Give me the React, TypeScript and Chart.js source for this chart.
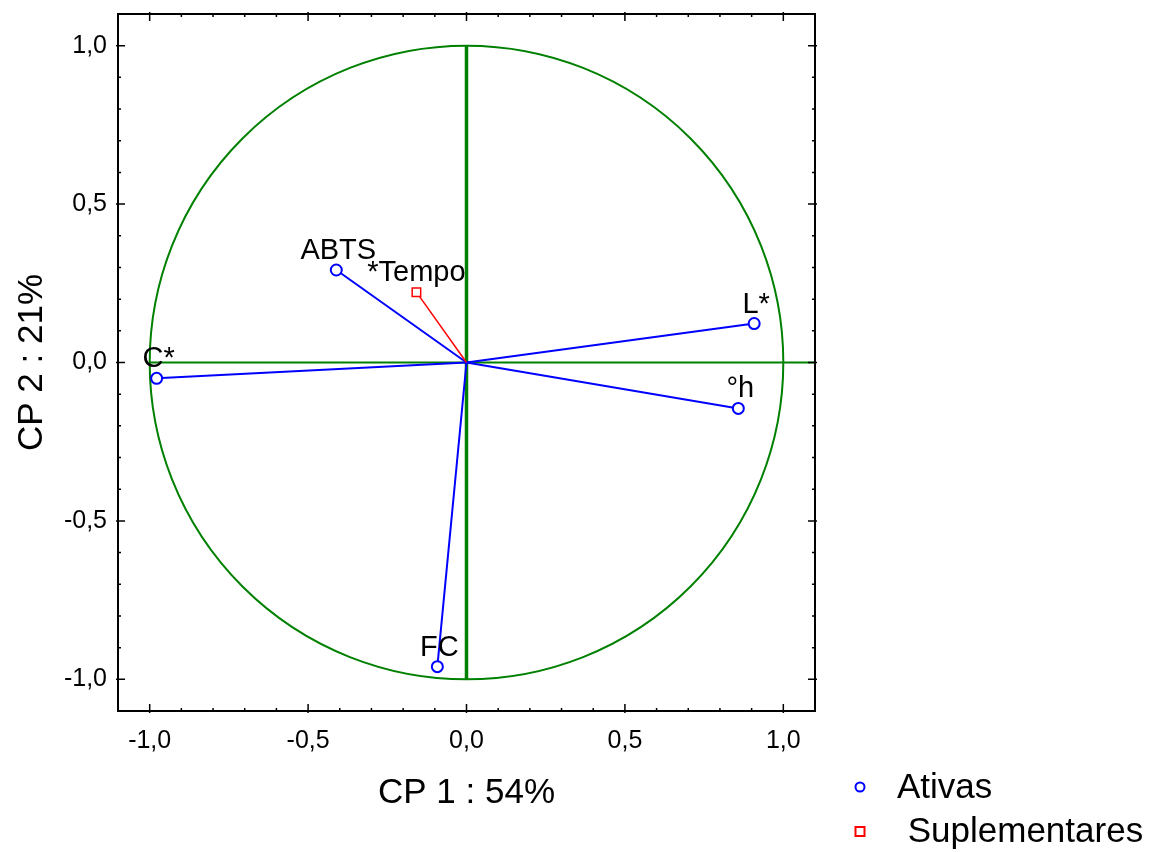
import React, { useEffect, useRef } from "react";
import { Chart, registerables } from "chart.js";

Chart.register(...registerables);

// Active variables (loadings on CP1 / CP2)
const activeLabels = ["ABTS", "L*", "°h", "C*", "FC"];
const activeCp1 = [-0.411, 0.908, 0.858, -0.978, -0.092];
const activeCp2 = [0.292, 0.123, -0.145, -0.05, -0.96];

// Supplementary variables
const suppLabels = ["*Tempo"];
const suppCp1 = [-0.158];
const suppCp2 = [0.222];

const tickValues = [-1, -0.5, 0, 0.5, 1];
const axisMin = -1.1;
const axisMax = 1.1;

const xTitle = "CP 1 : 54%";
const yTitle = "CP 2 : 21%";
const legendItems = ["Ativas", " Suplementares"];

const FONT = '"Liberation Sans", Arial, sans-serif';
const BLUE = "#0000ff";
const RED = "#ff0000";
const GREEN = "#008000";

const fmt = (v: number) => v.toFixed(1).replace(".", ",");

const decorPlugin = {
  id: "decor",
  beforeDatasetsDraw(chart: any) {
    const { ctx, chartArea, scales } = chart;
    const xs = scales.x;
    const ys = scales.y;
    const cx = xs.getPixelForValue(0);
    const cy = ys.getPixelForValue(0);
    const r = xs.getPixelForValue(1) - cx;
    const ry = cy - ys.getPixelForValue(1);
    ctx.save();
    ctx.strokeStyle = GREEN;
    ctx.lineWidth = 2;
    ctx.beginPath();
    ctx.ellipse(cx, cy, r, ry, 0, 0, Math.PI * 2);
    ctx.stroke();
    ctx.beginPath();
    ctx.moveTo(xs.getPixelForValue(-1), cy);
    ctx.lineTo(chartArea.right, cy);
    ctx.stroke();
    ctx.lineWidth = 3.5;
    ctx.beginPath();
    ctx.moveTo(cx, ys.getPixelForValue(1));
    ctx.lineTo(cx, ys.getPixelForValue(-1));
    ctx.stroke();
    ctx.restore();
  },
  afterDatasetsDraw(chart: any) {
    const { ctx, chartArea, scales } = chart;
    const xs = scales.x;
    const ys = scales.y;
    ctx.save();
    ctx.fillStyle = "#000";
    ctx.font = `29px ${FONT}`;
    ctx.textAlign = "center";
    ctx.textBaseline = "alphabetic";
    activeLabels.forEach((lab, i) => {
      const px = xs.getPixelForValue(activeCp1[i]);
      const py = ys.getPixelForValue(activeCp2[i]);
      ctx.fillText(lab, px + 2, py - 11);
    });
    suppLabels.forEach((lab, i) => {
      const px = xs.getPixelForValue(suppCp1[i]);
      const py = ys.getPixelForValue(suppCp2[i]);
      ctx.fillText(lab, px, py - 11);
    });
    ctx.strokeStyle = "#000";
    ctx.lineWidth = 2;
    ctx.strokeRect(chartArea.left, chartArea.top, chartArea.right - chartArea.left, chartArea.bottom - chartArea.top);
    ctx.lineWidth = 1.5;
    for (let k = -10; k <= 10; k++) {
      const v = k / 10;
      const major = k % 5 === 0;
      const len = major ? 7 : 3;
      const out = major ? 2 : 0;
      const px = xs.getPixelForValue(v);
      const py = ys.getPixelForValue(v);
      ctx.beginPath();
      ctx.moveTo(px, chartArea.bottom + out);
      ctx.lineTo(px, chartArea.bottom - len);
      ctx.moveTo(px, chartArea.top - out);
      ctx.lineTo(px, chartArea.top + len);
      ctx.moveTo(chartArea.left - out, py);
      ctx.lineTo(chartArea.left + len, py);
      ctx.moveTo(chartArea.right + out, py);
      ctx.lineTo(chartArea.right - len, py);
      ctx.stroke();
    }
    ctx.restore();
  },
  afterDraw(chart: any) {
    const { ctx, chartArea } = chart;
    ctx.save();
    ctx.fillStyle = "#000";
    ctx.font = `35px ${FONT}`;
    ctx.textAlign = "center";
    ctx.textBaseline = "alphabetic";
    const midX = (chartArea.left + chartArea.right) / 2;
    const midY = (chartArea.top + chartArea.bottom) / 2;
    ctx.fillText(xTitle, midX, 803);
    ctx.save();
    ctx.translate(42, midY);
    ctx.rotate(-Math.PI / 2);
    ctx.fillText(yTitle, 0, 0);
    ctx.restore();
    ctx.font = `35px ${FONT}`;
    ctx.textAlign = "left";
    ctx.lineWidth = 2;
    ctx.strokeStyle = BLUE;
    ctx.beginPath();
    ctx.arc(860, 787, 4.5, 0, Math.PI * 2);
    ctx.stroke();
    ctx.fillText(legendItems[0], 897, 798);
    ctx.strokeStyle = RED;
    ctx.strokeRect(855.5, 827, 9, 9);
    ctx.fillText(legendItems[1], 898, 842);
    ctx.restore();
  },
};

export default function App() {
  const canvasRef = useRef<HTMLCanvasElement | null>(null);

  useEffect(() => {
    const canvas = canvasRef.current;
    if (!canvas) return;
    const activeSets = activeLabels.map((lab, i) => ({
      label: lab,
      data: [
        { x: 0, y: 0 },
        { x: activeCp1[i], y: activeCp2[i] },
      ],
      showLine: true,
      borderColor: BLUE,
      borderWidth: 2,
      pointRadius: [0, 5.5],
      pointStyle: "circle",
      pointBorderColor: BLUE,
      pointBackgroundColor: "#ffffff",
      pointBorderWidth: 2,
    }));
    const suppSets = suppLabels.map((lab, i) => ({
      label: lab,
      data: [
        { x: 0, y: 0 },
        { x: suppCp1[i], y: suppCp2[i] },
      ],
      showLine: true,
      borderColor: RED,
      borderWidth: 1.5,
      pointRadius: [0, 6],
      pointStyle: "rect",
      pointBorderColor: RED,
      pointBackgroundColor: "#ffffff",
      pointBorderWidth: 1.5,
    }));

    const chart = new Chart(canvas, {
      type: "scatter",
      data: { datasets: [...suppSets, ...activeSets] as any },
      options: {
        responsive: false,
        animation: false,
        devicePixelRatio: 1,
        layout: { padding: { left: 0, top: 14, right: 341, bottom: 0 } },
        plugins: {
          legend: { display: false },
          tooltip: { enabled: false },
        },
        scales: {
          x: {
            type: "linear",
            min: axisMin,
            max: axisMax,
            afterBuildTicks: (s: any) => {
              s.ticks = tickValues.map((v) => ({ value: v }));
            },
            afterFit: (s: any) => {
              s.height = 141;
              s.paddingLeft = 0;
              s.paddingRight = 0;
            },
            grid: { display: false, drawTicks: false },
            border: { display: false },
            ticks: {
              color: "#000",
              font: { family: FONT, size: 25 },
              padding: 15,
              maxRotation: 0,
              callback: (v: any) => fmt(Number(v)),
            },
          },
          y: {
            type: "linear",
            min: axisMin,
            max: axisMax,
            afterBuildTicks: (s: any) => {
              s.ticks = tickValues.map((v) => ({ value: v }));
            },
            afterFit: (s: any) => {
              s.width = 118;
              s.paddingTop = 0;
              s.paddingBottom = 0;
            },
            grid: { display: false, drawTicks: false },
            border: { display: false },
            ticks: {
              color: "#000",
              font: { family: FONT, size: 25 },
              padding: 11,
              callback: (v: any) => fmt(Number(v)),
            },
          },
        },
      },
      plugins: [decorPlugin],
    });
    return () => chart.destroy();
  }, []);

  return (
    <div style={{ position: "absolute", left: 0, top: 0, width: 1156, height: 852, background: "#fff" }}>
      <canvas ref={canvasRef} width={1156} height={852} style={{ width: 1156, height: 852 }} />
    </div>
  );
}
